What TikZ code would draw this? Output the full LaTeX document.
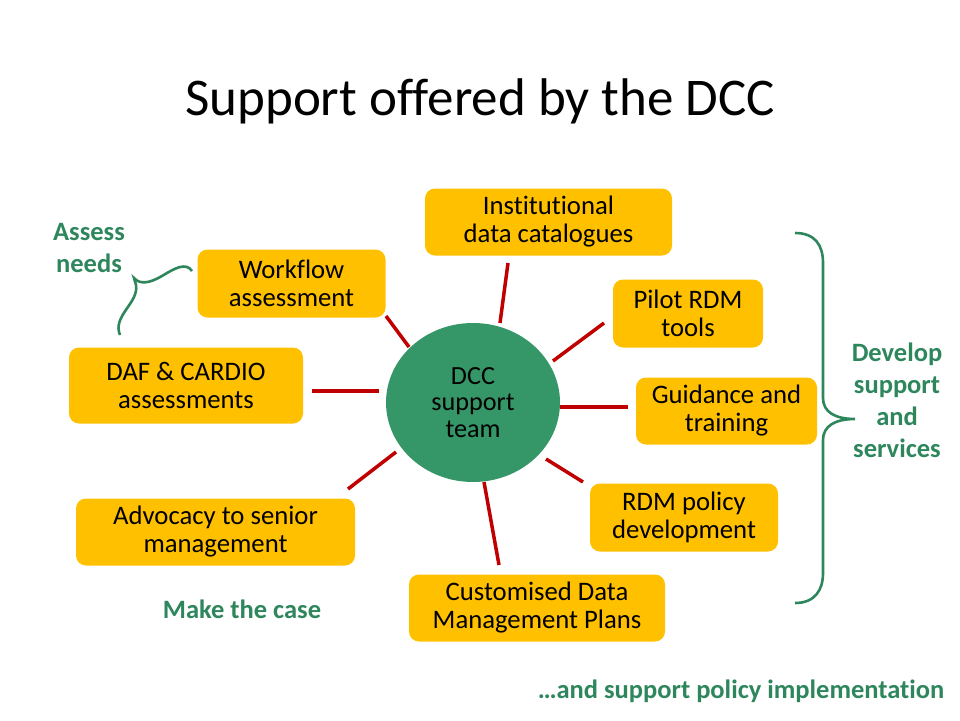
\documentclass[tikz,border=0pt]{standalone}
\usepackage{fontspec}
\setmainfont{Carlito}[Ligatures={NoCommon}]
\usetikzlibrary{shapes.geometric}
\definecolor{boxyellow}{RGB}{255,192,0}
\definecolor{hubgreen}{RGB}{53,150,103}
\definecolor{labelgreen}{RGB}{46,134,92}
\definecolor{spokered}{RGB}{192,0,0}
\begin{document}
\begin{tikzpicture}[x=1pt,y=-1pt,
  task/.style={fill=boxyellow,rounded corners=10pt,align=center,inner sep=0pt,
    minimum height=67pt,font=\fontsize{26.7}{28}\selectfont},
  spoke/.style={spokered,line width=3.5pt},
  brace/.style={labelgreen,line width=2.6pt},
  note/.style={labelgreen,align=center,font=\fontsize{26.5}{32}\selectfont\bfseries}]
  \useasboundingbox (0,0) rectangle (960,720);
  \node (title) at (480,101) {\fontsize{53}{60}\selectfont Support offered by the DCC};
  % centre
  \node[ellipse,fill=hubgreen,minimum width=174pt,minimum height=159pt,inner sep=0pt,
    align=center,font=\fontsize{26.2}{26.5}\selectfont] (hub) at (473,402.5) {DCC\\support\\team};
  % boxes
  \node[task,minimum width=247pt] (catalogue) at (548.5,222) {Institutional\\data catalogues};
  \node[task,minimum width=188pt,minimum height=68pt] (workflow) at (291.5,283.5) {Workflow\\assessment};
  \node[task,minimum width=150pt,minimum height=68pt] (pilot) at (688,313.5) {Pilot RDM\\tools};
  \node[task,minimum width=234pt,minimum height=76pt] (daf) at (186,385.5) {DAF \& CARDIO\\assessments};
  \node[task,minimum width=181pt] (guidance) at (726.5,411) {Guidance and\\training};
  \node[task,minimum width=279pt] (advocacy) at (215.5,532) {Advocacy to senior\\management};
  \node[task,minimum width=188pt,minimum height=68pt] (policy) at (684,517.5) {RDM policy\\development};
  \node[task,minimum width=256pt] (dmp) at (537,608) {Customised Data\\Management Plans};
  % spokes
  \foreach \n/\x/\y/\u/\v in {workflow/409/347/386/316, daf/379/391/312/391,
      advocacy/396/452/348/489, dmp/484/482/499/565, policy/546/459/583/482,
      guidance/560/407/628/407, pilot/553/361/604/323, catalogue/500/323/508/263}
  {
    \coordinate (\n-in) at (\x,\y);
    \coordinate (\n-out) at (\u,\v);
    \draw[spoke] (\n-in) -- (\n-out);
  }
  % braces
  \draw[brace] (120,335) .. controls (112,316) and (139,303) .. (136,285) -- (134,278)
    .. controls (140,285) and (150,283) .. (162,276) .. controls (175,268) and (186,262) .. (192,271);
  \draw[brace] (795,233) .. controls (815,233) and (823,245) .. (823,263) -- (823,398)
    .. controls (823,412) and (835,419) .. (855,419) .. controls (835,419) and (823,426) .. (823,440)
    -- (823,573) .. controls (823,590) and (815,603) .. (795,603);
  % labels
  \node[note] (assess) at (89,248) {Assess\\needs};
  \node[note] (develop) at (897,400.5) {Develop\\support\\and\\services};
  \node[note] (case) at (242,609) {Make the case};
  \node[note] (implement) at (741,691) {…and support policy implementation};
\end{tikzpicture}
\end{document}
